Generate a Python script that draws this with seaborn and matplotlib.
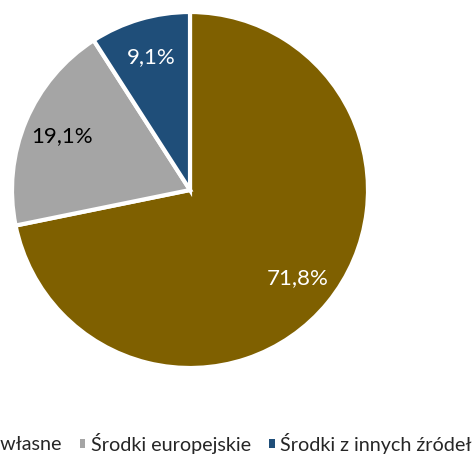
import matplotlib.pyplot as plt
from matplotlib.patches import Patch
import seaborn as sns

labels = ["Środki własne", "Środki europejskie", "Środki z innych źródeł"]
shares = [71.8, 19.1, 9.1]
colors = ["#7F6000", "#A5A5A5", "#1F4E79"]
text_colors = ["white", "black", "white"]

sns.set_style("white")
plt.rcParams["font.family"] = ["Lato", "DejaVu Sans"]

fig = plt.figure(figsize=(4.77, 4.54), dpi=100)
ax = fig.add_axes([12 / 477, 86 / 454, 356 / 477, 356 / 454])

palette = sns.color_palette(colors)
wedges, texts, autotexts = ax.pie(
    shares, colors=palette, startangle=90, counterclock=False,
    autopct=lambda p: f"{p:.1f}%".replace(".", ","), pctdistance=0.78,
    wedgeprops=dict(edgecolor="white", linewidth=3),
    textprops=dict(fontsize=16))
for t, c in zip(autotexts, text_colors):
    t.set_color(c)
ax.set_xlim(-1, 1)
ax.set_ylim(-1, 1)
ax.set_aspect("equal")

handles = [Patch(facecolor=c, edgecolor="none") for c in palette]
fig.legend(handles, labels, loc="center right", bbox_to_anchor=(472 / 477, 11 / 454),
           ncol=3, frameon=False, fontsize=14.2, handlelength=0.28, handleheight=0.28,
           handletextpad=0.3, columnspacing=0.9, borderpad=0, borderaxespad=0)

fig.savefig("out.png", dpi=100)
